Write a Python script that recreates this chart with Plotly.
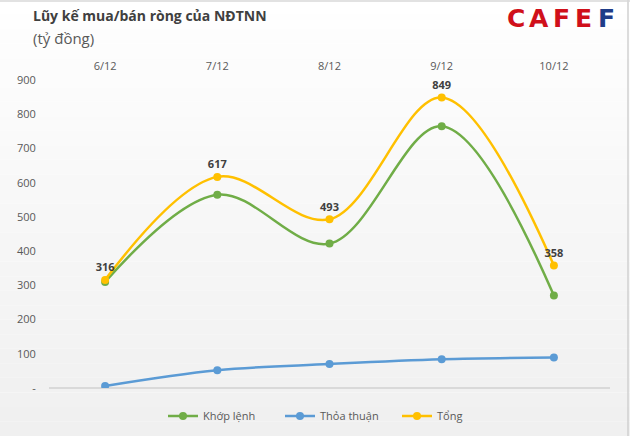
import plotly.graph_objects as go

dates = ["6/12", "7/12", "8/12", "9/12", "10/12"]
khop_lenh = [310, 565, 422, 765, 270]
thoa_thuan = [6, 52, 70, 84, 89]
tong = [316, 617, 493, 849, 358]
y_ticks = [0, 100, 200, 300, 400, 500, 600, 700, 800, 900]
y_tick_text = ["-", "100", "200", "300", "400", "500", "600", "700", "800", "900"]
logo_letters = ["C", "A", "F", "E", "F"]
logo_colors = ["#D0101A", "#D0101A", "#D0101A", "#D0101A", "#1F3C88"]

W, H = 630, 436
mt, mb, ml, mr = 78, 48, 49, 20
ph = H - mt - mb
pw = W - ml - mr

fig = go.Figure()
line_kw = dict(shape="spline", smoothing=1.0, width=2.5)
fig.add_trace(go.Scatter(x=dates, y=khop_lenh, name="Khớp lệnh", mode="lines+markers",
                         line=dict(color="#70AD47", **line_kw), marker=dict(size=8, color="#70AD47")))
fig.add_trace(go.Scatter(x=dates, y=thoa_thuan, name="Thỏa thuận", mode="lines+markers",
                         line=dict(color="#5B9BD5", **line_kw), marker=dict(size=8, color="#5B9BD5")))
fig.add_trace(go.Scatter(x=dates, y=tong, name="Tổng", mode="lines+markers+text",
                         text=[f"<b>{v}</b>" for v in tong], textposition="top center",
                         textfont=dict(size=11, color="#404040", family="Open Sans"),
                         line=dict(color="#FFC000", **line_kw), marker=dict(size=8, color="#FFC000")))

# gradient background
shapes = []
n = 30
y0p = -mb / ph
y1p = 1 + mt / ph
for i in range(n):
    t = i / (n - 1)
    c = int(255 - 15 * t)
    a = y1p - (y1p - y0p) * i / n
    b = y1p - (y1p - y0p) * (i + 1) / n
    shapes.append(dict(type="rect", xref="paper", yref="paper", x0=-ml / pw, x1=1 + mr / pw,
                       y0=b, y1=a, fillcolor=f"rgb({c},{c},{c})", line=dict(width=0), layer="below"))
# borders
shapes.append(dict(type="line", xref="paper", yref="paper", x0=1 + (mr - 2) / pw, x1=1 + (mr - 2) / pw,
                   y0=y0p, y1=y1p, line=dict(color="#d0d0d0", width=1.5)))
shapes.append(dict(type="line", xref="paper", yref="paper", x0=-ml / pw, x1=1 + mr / pw,
                   y0=y1p - 1 / ph, y1=y1p - 1 / ph, line=dict(color="#d8d8d8", width=1.5)))

annotations = [
    dict(text="<b>Lũy kế mua/bán ròng của NĐTNN</b>", xref="paper", yref="paper",
         x=-(ml - 31) / pw, y=1 + (mt - 15) / ph, xanchor="left", yanchor="middle",
         showarrow=False, font=dict(size=14, color="#404040", family="Open Sans")),
    dict(text="(tỷ đồng)", xref="paper", yref="paper",
         x=-(ml - 31) / pw, y=1 + (mt - 38) / ph, xanchor="left", yanchor="middle",
         showarrow=False, font=dict(size=15, color="#595959", family="Open Sans")),
]
for i, (ch, col) in enumerate(zip(logo_letters, logo_colors)):
    cx = 516 + 22.5 * i
    annotations.append(dict(text=f"<b>{ch}</b>", xref="paper", yref="paper",
                            x=(cx - ml) / pw, y=1 + (mt - 19) / ph, xanchor="center", yanchor="middle",
                            showarrow=False, font=dict(size=25, family="DejaVu Sans", color=col)))

fig.update_layout(
    width=W, height=H,
    margin=dict(l=ml, r=mr, t=mt, b=mb, autoexpand=False),
    paper_bgcolor="rgba(0,0,0,0)", plot_bgcolor="rgba(0,0,0,0)",
    font=dict(family="Open Sans", color="#595959", size=11),
    shapes=shapes,
    showlegend=True,
    legend=dict(orientation="h", x=(163 - ml) / pw, xanchor="left",
                yref="container", y=(H - 416) / H, yanchor="middle",
                font=dict(size=11, color="#595959"), itemwidth=30, entrywidth=72,
                tracegroupgap=0, bgcolor="rgba(0,0,0,0)"),
    xaxis=dict(type="category", side="top", range=[-0.5, 4.5], showgrid=False, zeroline=False,
               showline=False, ticks="outside", ticklen=3, tickcolor="rgba(0,0,0,0)",
               tickfont=dict(size=11, color="#595959")),
    yaxis=dict(range=[0, 906], tickvals=y_ticks, ticktext=y_tick_text, showgrid=False,
               zeroline=True, zerolinecolor="#d9d9d9", zerolinewidth=1.5, showline=False,
               ticks="outside", ticklen=10, tickcolor="rgba(0,0,0,0)",
               tickfont=dict(size=11, color="#595959")),
    annotations=annotations,
)

fig.write_html("out.html")
